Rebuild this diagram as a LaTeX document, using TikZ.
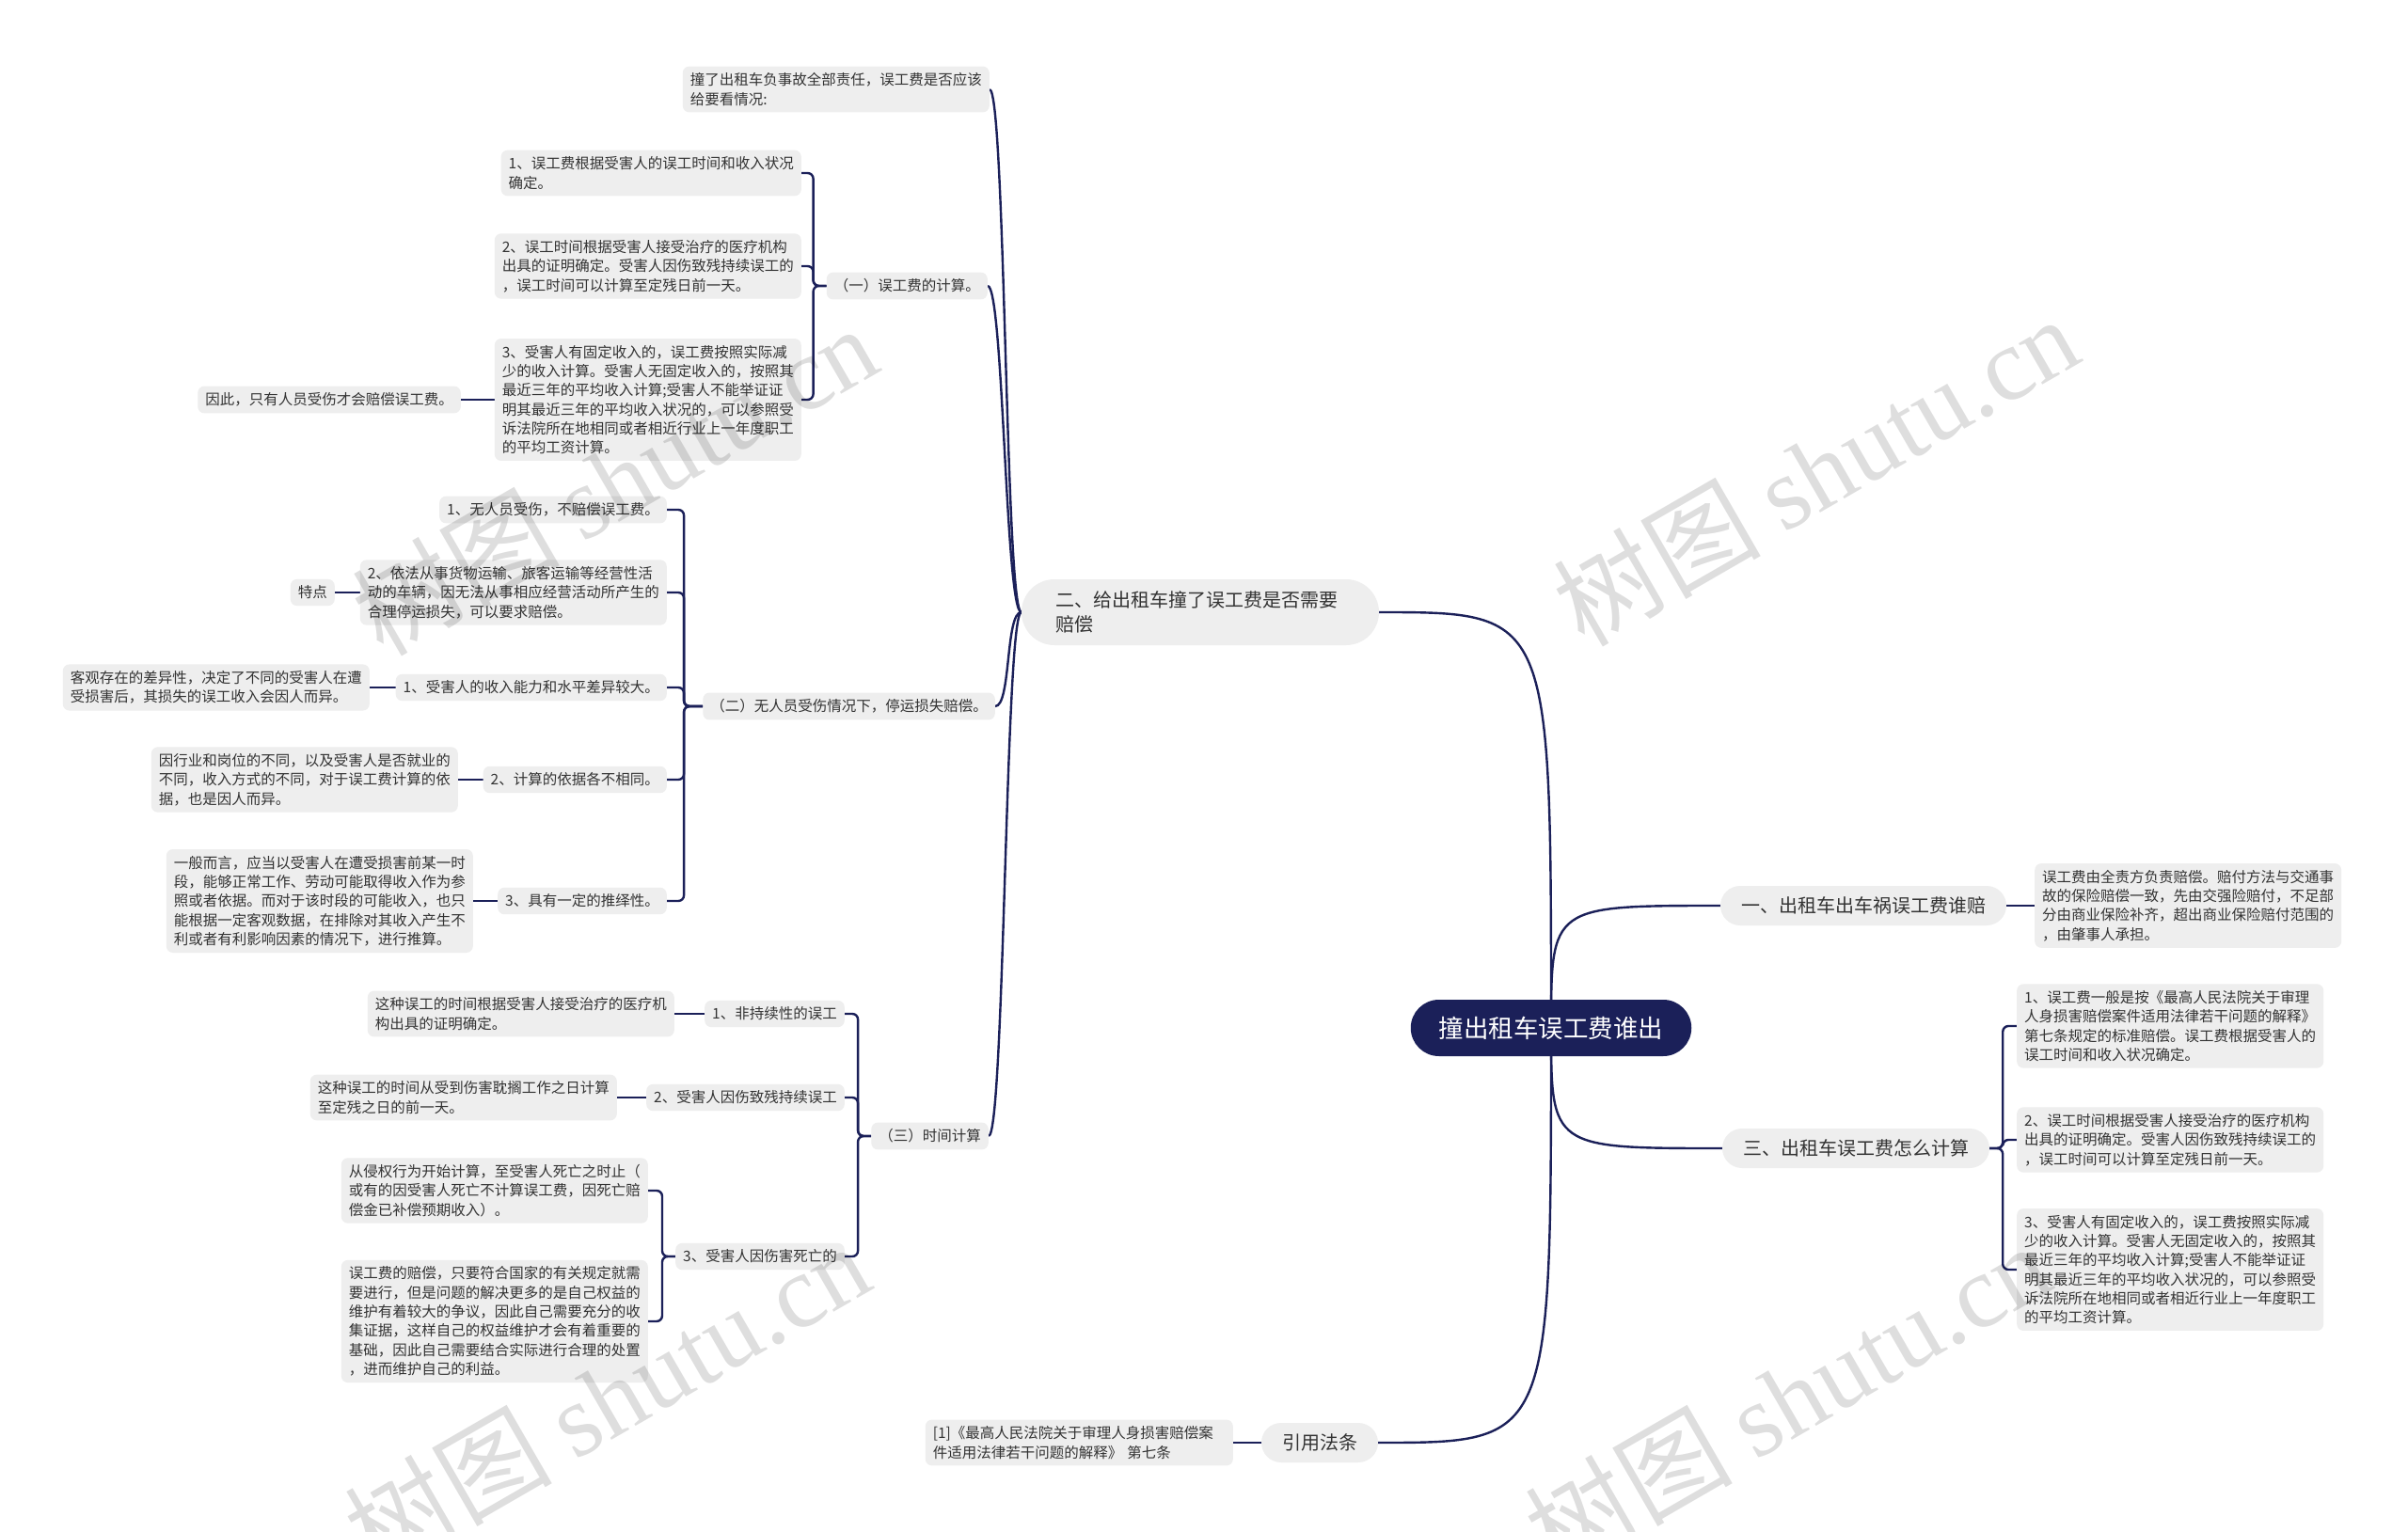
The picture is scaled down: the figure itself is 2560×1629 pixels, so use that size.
\documentclass[tikz,border=0pt]{standalone}
\usepackage{fontspec}
\setmainfont{Noto Sans CJK SC}
\newfontfamily\wmserif{Liberation Serif}
\usetikzlibrary{calc}
\pgfdeclarelayer{background}
\pgfdeclarelayer{foreground}
\pgfsetlayers{background,main,foreground}
\definecolor{navy}{HTML}{1B2059}
\definecolor{boxgray}{HTML}{EEEEEE}
\definecolor{txt}{HTML}{333333}
\tikzset{
 link/.style={draw=navy, line width=2.4pt},
 brk/.style={draw=navy, line width=2.4pt, rounded corners=6pt},
 leaf/.style={fill=boxgray, rounded corners=7pt, text=txt, align=left, inner xsep=8pt, inner ysep=7pt, font=\fontsize{15.5pt}{20.3pt}\selectfont},
 lvlone/.style={fill=boxgray, rounded corners=21pt, text=txt, inner xsep=22pt, minimum height=42pt, font=\fontsize{20pt}{26pt}\selectfont},
 rootbox/.style={fill=navy, rounded corners=30pt, text=white, minimum height=60pt, inner xsep=30pt, font=\fontsize{26.5pt}{32pt}\selectfont},
 wm/.style={text=black, text opacity=0.13, rotate=30, font=\fontsize{110pt}{120pt}\selectfont},
}
\begin{document}
\begin{tikzpicture}[x=1pt,y=-1pt]
\useasboundingbox (0,0) rectangle (2560,1629);
% root and main branches
\node[rootbox] (root) at (1649,1093) {撞出租车误工费谁出};
\node[lvlone] (n1) at (1981,963) {一、出租车出车祸误工费谁赔};
\node[lvlone] (n3) at (1973,1221) {三、出租车误工费怎么计算};
\node[lvlone] (n4) at (1403,1534) {引用法条};
\node[lvlone, align=left, text width=308pt, inner xsep=36pt, minimum height=70pt, rounded corners=35pt] (n2) at (1276,651) {二、给出租车撞了误工费是否需要\\赔偿};
% right leaves
\node[leaf, anchor=west] (r1) at (2163,963) {误工费由全责方负责赔偿。赔付方法与交通事\\故的保险赔偿一致，先由交强险赔付，不足部\\分由商业保险补齐，超出商业保险赔付范围的\\，由肇事人承担。};
\node[leaf, anchor=west] (r3a) at (2144,1091) {1、误工费一般是按《最高人民法院关于审理\\人身损害赔偿案件适用法律若干问题的解释》\\第七条规定的标准赔偿。误工费根据受害人的\\误工时间和收入状况确定。};
\node[leaf, anchor=west] (r3b) at (2144,1212) {2、误工时间根据受害人接受治疗的医疗机构\\出具的证明确定。受害人因伤致残持续误工的\\，误工时间可以计算至定残日前一天。};
\node[leaf, anchor=west] (r3c) at (2144,1350) {3、受害人有固定收入的，误工费按照实际减\\少的收入计算。受害人无固定收入的，按照其\\最近三年的平均收入计算;受害人不能举证证\\明其最近三年的平均收入状况的，可以参照受\\诉法院所在地相同或者相近行业上一年度职工\\的平均工资计算。};
\node[leaf, anchor=east, text width=311pt] (law) at (1311,1534) {[1]《最高人民法院关于审理人身损害赔偿案\\件适用法律若干问题的解释》 第七条};
% branch two
\node[leaf, anchor=east] (a0) at (1052,95) {撞了出租车负事故全部责任，误工费是否应该\\给要看情况:};
\node[leaf, anchor=east] (a1) at (1050,304) {（一）误工费的计算。};
\node[leaf, anchor=east] (a2) at (1058,751) {（二）无人员受伤情况下，停运损失赔偿。};
\node[leaf, anchor=east] (a3) at (1051,1208) {（三）时间计算};
% group one
\node[leaf, anchor=east] (b1) at (852,184) {1、误工费根据受害人的误工时间和收入状况\\确定。};
\node[leaf, anchor=east] (b2) at (852,283) {2、误工时间根据受害人接受治疗的医疗机构\\出具的证明确定。受害人因伤致残持续误工的\\，误工时间可以计算至定残日前一天。};
\node[leaf, anchor=east] (b3) at (852,425) {3、受害人有固定收入的，误工费按照实际减\\少的收入计算。受害人无固定收入的，按照其\\最近三年的平均收入计算;受害人不能举证证\\明其最近三年的平均收入状况的，可以参照受\\诉法院所在地相同或者相近行业上一年度职工\\的平均工资计算。};
\node[leaf, anchor=east] (b3c) at (490,425) {因此，只有人员受伤才会赔偿误工费。};
% group two
\node[leaf, anchor=east] (c1) at (709,542) {1、无人员受伤，不赔偿误工费。};
\node[leaf, anchor=east] (c2) at (709,630) {2、依法从事货物运输、旅客运输等经营性活\\动的车辆，因无法从事相应经营活动所产生的\\合理停运损失，可以要求赔偿。};
\node[leaf, anchor=east] (c2c) at (356,630) {特点};
\node[leaf, anchor=east] (c3) at (709,731) {1、受害人的收入能力和水平差异较大。};
\node[leaf, anchor=east] (c3c) at (393,731) {客观存在的差异性，决定了不同的受害人在遭\\受损害后，其损失的误工收入会因人而异。};
\node[leaf, anchor=east] (c4) at (709,829) {2、计算的依据各不相同。};
\node[leaf, anchor=east] (c4c) at (487,829) {因行业和岗位的不同，以及受害人是否就业的\\不同，收入方式的不同，对于误工费计算的依\\据，也是因人而异。};
\node[leaf, anchor=east] (c5) at (709,958) {3、具有一定的推绎性。};
\node[leaf, anchor=east] (c5c) at (503,958) {一般而言，应当以受害人在遭受损害前某一时\\段，能够正常工作、劳动可能取得收入作为参\\照或者依据。而对于该时段的可能收入，也只\\能根据一定客观数据，在排除对其收入产生不\\利或者有利影响因素的情况下，进行推算。};
% group three
\node[leaf, anchor=east] (d1) at (898,1078) {1、非持续性的误工};
\node[leaf, anchor=east] (d1c) at (717,1078) {这种误工的时间根据受害人接受治疗的医疗机\\构出具的证明确定。};
\node[leaf, anchor=east] (d2) at (898,1167) {2、受害人因伤致残持续误工};
\node[leaf, anchor=east] (d2c) at (656,1167) {这种误工的时间从受到伤害耽搁工作之日计算\\至定残之日的前一天。};
\node[leaf, anchor=east] (d3) at (898,1336) {3、受害人因伤害死亡的};
\node[leaf, anchor=east] (e1) at (689,1266) {从侵权行为开始计算，至受害人死亡之时止（\\或有的因受害人死亡不计算误工费，因死亡赔\\偿金已补偿预期收入）。};
\node[leaf, anchor=east] (e2) at (689,1405) {误工费的赔偿，只要符合国家的有关规定就需\\要进行，但是问题的解决更多的是自己权益的\\维护有着较大的争议，因此自己需要充分的收\\集证据，这样自己的权益维护才会有着重要的\\基础，因此自己需要结合实际进行合理的处置\\，进而维护自己的利益。};

\begin{pgfonlayer}{background}
\fill[white] (0,0) rectangle (2560,1629);
% root links
\draw[link] (root.center) .. controls (root.center |- n2.east) .. (n2.east);
\draw[link] (root.center) .. controls (root.center |- n1.west) .. (n1.west);
\draw[link] (root.center) .. controls (root.center |- n3.west) .. (n3.west);
\draw[link] (root.center) .. controls (root.center |- n4.east) .. (n4.east);
% branch one / law
\draw[link] (n1.east) -- (r1.west);
\draw[link] (n4.west) -- (law.east);
% branch three
\foreach \c in {r3a,r3b,r3c} \draw[brk] (n3.east) -- ++(14,0) |- (\c.west);
% branch two
\foreach \c in {a0,a1,a2,a3} \draw[link] (n2.west) to[out=180,in=0,distance=17pt] (\c.east);
\foreach \c in {b1,b2,b3} \draw[brk] (a1.west) -- ++(-14,0) |- (\c.east);
\draw[link] (b3.west) -- (b3c.east);
\foreach \c in {c1,c2,c3,c4,c5} \draw[brk] (a2.west) -- ++(-20,0) |- (\c.east);
\draw[link] (c2.west) -- (c2c.east);
\draw[link] (c3.west) -- (c3c.east);
\draw[link] (c4.west) -- (c4c.east);
\draw[link] (c5.west) -- (c5c.east);
\foreach \c in {d1,d2,d3} \draw[brk] (a3.west) -- ++(-14,0) |- (\c.east);
\draw[link] (d1.west) -- (d1c.east);
\draw[link] (d2.west) -- (d2c.east);
\foreach \c in {e1,e2} \draw[brk] (d3.west) -- ++(-14,0) |- (\c.east);
\end{pgfonlayer}

\begin{pgfonlayer}{foreground}
\node[wm] (wm1) at (653,510) {树图 {\wmserif shutu.cn}};
\node[wm] (wm2) at (1930,500) {树图 {\wmserif shutu.cn}};
\node[wm] (wm3) at (645,1486) {树图 {\wmserif shutu.cn}};
\node[wm] (wm4) at (1900,1486) {树图 {\wmserif shutu.cn}};
\end{pgfonlayer}
\end{tikzpicture}
\end{document}
